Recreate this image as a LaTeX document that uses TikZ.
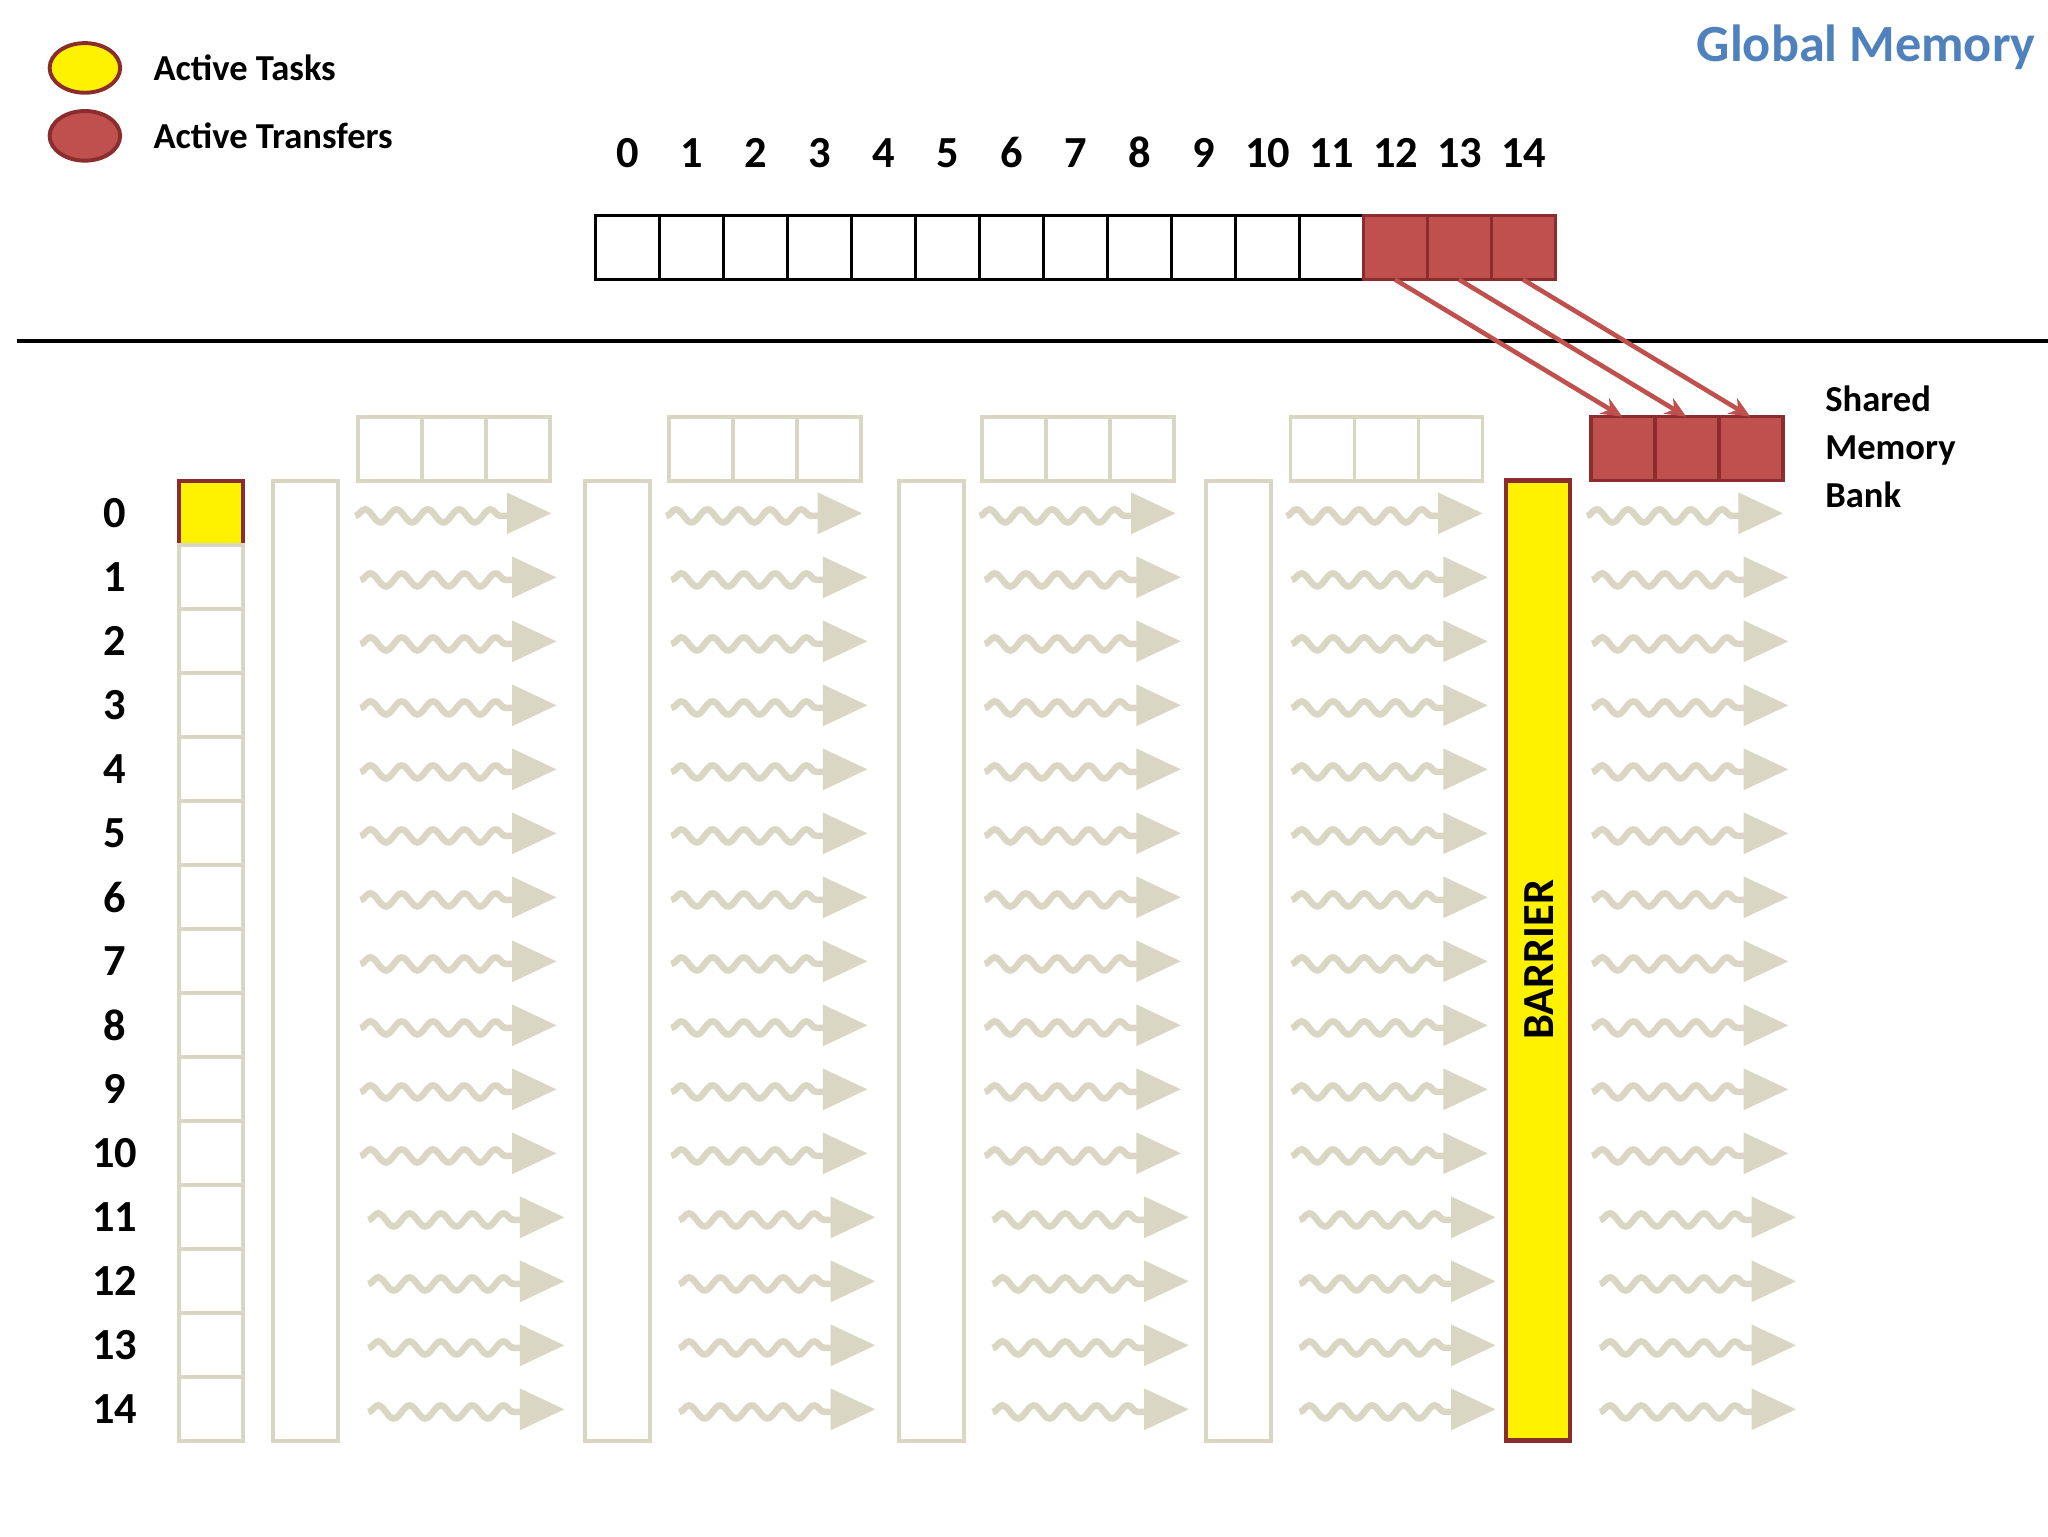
\documentclass[tikz,border=0pt]{standalone}
\usepackage{fontspec}
\setmainfont{Carlito}
\usetikzlibrary{decorations.pathmorphing,shapes.geometric,arrows.meta}
\definecolor{lg}{RGB}{217,215,195}
\definecolor{rd}{RGB}{192,80,77}
\definecolor{drd}{RGB}{140,45,45}
\definecolor{bl}{RGB}{79,129,189}
\tikzset{
 lgbox/.style={draw=lg,line width=3pt,fill=white},
 redcell/.style={draw=drd,line width=2.5pt,fill=rd},
 cellk/.style={draw=black,line width=2.5pt,fill=white},
 lbl/.style={font=\fontsize{34}{40}\selectfont\bfseries},
 wavy/.style={draw=lg,line width=5pt,decorate,decoration={snake,amplitude=5pt,segment length=24pt}},
 redarr/.style={draw=rd,line width=3.5pt,-{Stealth[length=16pt,width=14pt]}}
}
\begin{document}
\begin{tikzpicture}[x=1pt,y=-1pt]
\useasboundingbox (0,0) rectangle (1568,1176);
\fill[white] (0,0) rectangle (1568,1176);
% legend
\node[ellipse,draw=drd,line width=3pt,fill=yellow,minimum width=54pt,minimum height=38pt,inner sep=0] (ly) at (65,52) {};
\node[ellipse,draw=drd,line width=3pt,fill=rd,minimum width=54pt,minimum height=38pt,inner sep=0] (lr) at (65,104) {};
\node[anchor=west,font=\fontsize{28}{32}\selectfont\bfseries] (lt1) at (114,52) {Active Tasks};
\node[anchor=west,font=\fontsize{28}{32}\selectfont\bfseries] (lt2) at (114,104) {Active Transfers};
\node[anchor=east,text=bl,font=\fontsize{40}{46}\selectfont\bfseries] (gm) at (1562,36) {Global Memory};
% global memory cells
\foreach \i in {0,...,14}{
 \pgfmathsetmacro{\xx}{456+49*\i}
 \ifnum\i>11
  \path[redcell] (\xx,165) rectangle ++(49,49);
 \else
  \path[cellk] (\xx,165) rectangle ++(49,49);
 \fi
 \node[lbl] (gn\i) at (\xx+24.5,117) {\i};
}
\draw[line width=3pt] (13,261) -- (1568,261);
% shared bank
\foreach \i in {0,1,2}{
 \path[redcell] (1218+49*\i,319) rectangle ++(49,49);
 \coordinate (s\i) at (1242+49*\i,319);
}
\coordinate (a12) at (1068,214);\coordinate (a13) at (1117,214);\coordinate (a14) at (1166,214);
\draw[redarr] (a12) -- (s0);
\draw[redarr] (a13) -- (s1);
\draw[redarr] (a14) -- (s2);
\node[anchor=west,align=left,font=\fontsize{28}{37}\selectfont\bfseries] (smb) at (1394,342) {Shared\\Memory\\Bank};
% gray top boxes
\foreach \x in {274,512,752,988}{
 \foreach \k in {0,1,2}{\path[lgbox] (\x+49*\k,319) rectangle ++(49,49);}
}
% task column
\foreach \i in {0,...,14}{
 \pgfmathsetmacro{\yy}{368+49*\i}
 \ifnum\i=0
  \path[draw=drd,line width=3pt,fill=yellow] (137,\yy) rectangle ++(49,49);
 \else
  \path[lgbox] (137,\yy) rectangle ++(49,49);
 \fi
 \node[lbl] (r\i) at (88,\yy+25) {\i};
}
% vertical columns
\foreach \x in {209,448,688,923}{\path[lgbox] (\x,368) rectangle ++(50,735);}
% barrier
\path[draw=drd,line width=3.5pt,fill=yellow] (1153,368) rectangle (1202,1103);
\node[lbl,rotate=90] (bar) at (1178,735) {BARRIER};
% wavy arrows
\foreach \x in {272,510,750,985,1215}{
 \foreach \i in {0,...,14}{
  \pgfmathsetmacro{\yy}{393+49*\i}
  \pgfmathsetmacro{\dx}{\i>10 ? 10 : (\i>0 ? 4 : 0)}
  \path[wavy] (\x+\dx,\yy+2) -- (\x+\dx+120,\yy+2);
  \fill[lg] (\x+\dx+116,\yy-16) -- (\x+\dx+150,\yy) -- (\x+\dx+116,\yy+16) -- cycle;
 }
}
\end{tikzpicture}
\end{document}
